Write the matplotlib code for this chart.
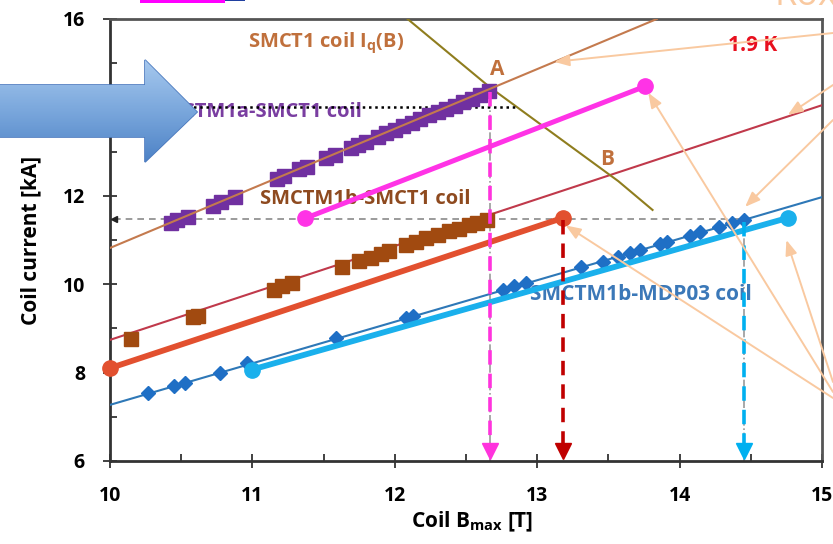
import numpy as np
import matplotlib
matplotlib.use("Agg")
import matplotlib.pyplot as plt
from matplotlib.patches import Polygon, Rectangle
from matplotlib.ticker import MultipleLocator

plt.rcParams['font.family'] = ['Open Sans', 'DejaVu Sans']
plt.rcParams['font.weight'] = 'bold'
plt.rcParams['mathtext.fontset'] = 'custom'
plt.rcParams['mathtext.rm'] = 'Open Sans:bold'
plt.rcParams['mathtext.bf'] = 'Open Sans:bold'

# ---- data ----
# SMCTM1a-SMCT1 coil (purple squares)
b_1a = [10.43, 10.47, 10.55, 10.72, 10.78, 10.88, 11.17, 11.22, 11.33, 11.38,
        11.52, 11.58, 11.69, 11.74, 11.80, 11.88, 11.94, 12.00, 12.06, 12.12,
        12.18, 12.24, 12.30, 12.36, 12.42, 12.48, 12.54, 12.60, 12.66]
i_1a = [11.38, 11.45, 11.52, 11.78, 11.85, 11.97, 12.38, 12.45, 12.60, 12.66,
        12.86, 12.93, 13.08, 13.15, 13.22, 13.32, 13.41, 13.50, 13.58, 13.65,
        13.73, 13.82, 13.90, 13.97, 14.04, 14.12, 14.20, 14.29, 14.38]

# SMCTM1b-SMCT1 coil (brown squares)
b_1b = [10.15, 10.58, 10.62, 11.15, 11.21, 11.28, 11.63, 11.75, 11.83, 11.90,
        11.96, 12.08, 12.15, 12.22, 12.30, 12.38, 12.45, 12.52, 12.58, 12.65]
i_1b = [8.76, 9.25, 9.29, 9.87, 9.95, 10.02, 10.40, 10.52, 10.60, 10.68,
        10.75, 10.88, 10.96, 11.04, 11.12, 11.20, 11.26, 11.33, 11.39, 11.45]

# SMCTM1b-MDP03 coil (blue diamonds)
b_md = [10.27, 10.45, 10.53, 10.77, 10.96, 11.59, 12.08, 12.13, 12.76, 12.84,
        12.92, 13.31, 13.46, 13.57, 13.65, 13.72, 13.86, 13.91, 14.07, 14.14,
        14.28, 14.37, 14.45]
i_md = [7.53, 7.70, 7.77, 8.00, 8.22, 8.78, 9.23, 9.28, 9.87, 9.95,
        10.03, 10.39, 10.51, 10.62, 10.70, 10.77, 10.91, 10.96, 11.10, 11.17,
        11.30, 11.38, 11.46]

# load lines (end points)
load_smct1_b = [10.0, 13.84]
load_smct1_i = [10.82, 16.0]
load_1b_b = [10.0, 15.0]
load_1b_i = [8.74, 14.05]
load_md_b = [10.0, 15.0]
load_md_i = [7.27, 11.97]

# SMCT1 coil short sample Iq(B)
iq_b = [12.09, 12.67, 13.57, 13.81]
iq_i = [16.0, 14.45, 12.33, 11.68]

# thick lines with end circles
mag_b = [11.37, 13.76]
mag_i = [11.49, 14.48]
red_b = [10.0, 13.18]
red_i = [8.10, 11.50]
cyan_b = [11.0, 14.76]
cyan_i = [8.07, 11.50]

# quench points marked on the B axis
b_quench = [12.67, 13.18, 14.45]
i_quench_top = [14.35, 11.45, 11.40]
quench_colors = ['#ff33dd', '#c00000', '#00b0f0']

fig = plt.figure(figsize=(8.33, 5.44), dpi=100)
ax = fig.add_axes([110 / 833, 83 / 544, 712 / 833, 442 / 544])
ax.set_xlim(10, 15)
ax.set_ylim(6, 16)

# load lines
ax.plot(load_1b_b, load_1b_i, color='#c0394b', lw=1.5, zorder=3)
ax.plot(load_md_b, load_md_i, color='#2e78b7', lw=1.5, zorder=3)
ax.plot(iq_b, iq_i, color='#8f7d1e', lw=1.5, zorder=3)

# guide lines
ax.plot([10.03, 14.47], [11.47, 11.47], color='#8a8a8a', lw=1.2, ls=(0, (4, 3)), zorder=2)
ax.plot([10.03], [11.47], marker='<', color='#222222', ms=5, clip_on=False, zorder=4)
ax.plot([10.5, 12.86], [14.0, 14.0], color='black', lw=1.8, ls=(0, (1, 1.5)), zorder=4)
ax.plot([12.67, 12.67], [6, 14.4], color='#9a9a9a', lw=1.2, ls='-.', zorder=2)
ax.plot([14.45, 14.45], [6, 11.46], color='#9a9a9a', lw=1.2, ls='-.', zorder=2)

# measured points
ax.plot(b_1a, i_1a, ls='none', marker='s', ms=9.5, color='#7030a0', zorder=4)
ax.plot(load_smct1_b, load_smct1_i, color='#c47a4e', lw=1.5, zorder=5)
ax.plot(b_1b, i_1b, ls='none', marker='s', ms=9.5, color='#a14a10', zorder=4)
ax.plot(b_md, i_md, ls='none', marker='D', ms=7, color='#1f6fc5', zorder=4)

# thick lines
ax.plot(mag_b, mag_i, color='#ff33e6', lw=3.6, marker='o', ms=11, zorder=6, clip_on=False)
ax.plot(red_b, red_i, color='#e2502f', lw=4.2, marker='o', ms=11, zorder=6, clip_on=False)
ax.plot(cyan_b, cyan_i, color='#1ab0ec', lw=4.2, marker='o', ms=11, zorder=6, clip_on=False)

# dashed drop lines with arrow heads
for b, top, c in zip(b_quench, i_quench_top, quench_colors):
    ax.plot([b, b], [top, 6.3], color=c, lw=2.6, ls=(0, (4, 2.5)), zorder=7)
    ax.plot([b], [6.22], marker='v', ms=11, color=c, ls='none', zorder=7, clip_on=False)

# labels inside the plot
ax.text(10.97, 15.46, 'SMCT1 coil I$_\\mathrm{q}$(B)', color='#c0703c', fontsize=14.5,
        ha='left', va='center')
ax.text(12.72, 14.85, 'A', color='#c0703c', fontsize=15, ha='center', va='center')
ax.text(13.49, 12.81, 'B', color='#c0703c', fontsize=15, ha='center', va='center')
ax.text(14.51, 15.39, '1.9 K', color='#e8101e', fontsize=15, ha='center', va='center')
ax.text(11.77, 13.9, 'SMCTM1a-SMCT1 coil', color='#7a3ea1', fontsize=14.5,
        ha='right', va='center', zorder=3)
ax.text(11.05, 11.93, 'SMCTM1b-SMCT1 coil', color='#8e4a1f', fontsize=14.5,
        ha='left', va='center', zorder=3)
ax.text(12.95, 9.76, 'SMCTM1b-MDP03 coil', color='#3b78b8', fontsize=15,
        ha='left', va='center', zorder=3)

# axes styling
ax.xaxis.set_major_locator(MultipleLocator(1))
ax.xaxis.set_minor_locator(MultipleLocator(0.5))
ax.yaxis.set_major_locator(MultipleLocator(2))
ax.yaxis.set_minor_locator(MultipleLocator(1))
ax.tick_params(which='major', direction='inout', length=10, width=1.3, color='#333333',
               labelsize=14, pad=13)
ax.tick_params(which='minor', direction='in', length=5, width=1.3, color='#333333')
for lab in ax.get_xticklabels() + ax.get_yticklabels():
    lab.set_fontweight('bold')
for side in ['left', 'bottom']:
    ax.spines[side].set_color('#333333')
    ax.spines[side].set_linewidth(2)
for side in ['top', 'right']:
    ax.spines[side].set_color('#555555')
    ax.spines[side].set_linewidth(2)

ax.set_xlabel('Coil B$_\\mathrm{max}$ [T]', fontsize=15, fontweight='bold')
ax.set_ylabel('Coil current [kA]', fontsize=15, fontweight='bold')
ax.yaxis.set_label_coords(-0.097, 0.5)
ax.xaxis.set_label_coords(0.508, -0.11)

# peach annotation arrows coming in from the right edge
peach = '#f9c9a0'
notes = [((13.12, 15.03), (833, 511)),
         ((14.76, 13.83), (833, 459)),
         ((14.46, 11.75), (833, 424)),
         ((13.78, 14.33), (833, 152)),
         ((13.2, 11.33), (833, 146)),
         ((14.75, 11.0), (833, 162))]
for xy, tail in notes:
    ax.annotate('', xy=xy, xycoords='data', xytext=tail, textcoords='figure pixels',
                arrowprops=dict(arrowstyle='-|>,head_length=0.9,head_width=0.35',
                                color=peach, lw=1.4, shrinkA=0, shrinkB=0),
                zorder=8, annotation_clip=False)

fig.text(775 / 833, 530 / 544, 'Rox', color=peach, fontsize=26, fontweight='normal',
         ha='left', va='bottom')

# overlay in pixel coordinates for the big block arrow
ov = fig.add_axes([0, 0, 1, 1], zorder=10)
ov.set_xlim(0, 833)
ov.set_ylim(544, 0)
ov.axis('off')
ov.patch.set_alpha(0)
arrow_pts = [(-5, 85), (145, 85), (145, 60), (197, 112), (145, 162), (145, 137), (-5, 137)]
poly = Polygon(arrow_pts, closed=True, facecolor='none', edgecolor='#4a78bd', lw=1.2)
ov.add_patch(poly)
grad = np.linspace(0, 1, 256).reshape(-1, 1)
cmap = matplotlib.colors.LinearSegmentedColormap.from_list('blu', ['#a6c8ee', '#7aa7dc', '#4d82c6'])
im = ov.imshow(grad, cmap=cmap, extent=[-5, 200, 162, 60], aspect='auto', zorder=1)
im.set_clip_path(poly)
ov.set_xlim(0, 833)
ov.set_ylim(544, 0)
ov.add_patch(Rectangle((140, -2), 85, 5, color='#ff00ff', lw=0))
ov.add_patch(Rectangle((225, -2), 20, 3, color='#2040a0', lw=0))

fig.savefig('out.png', dpi=100)
